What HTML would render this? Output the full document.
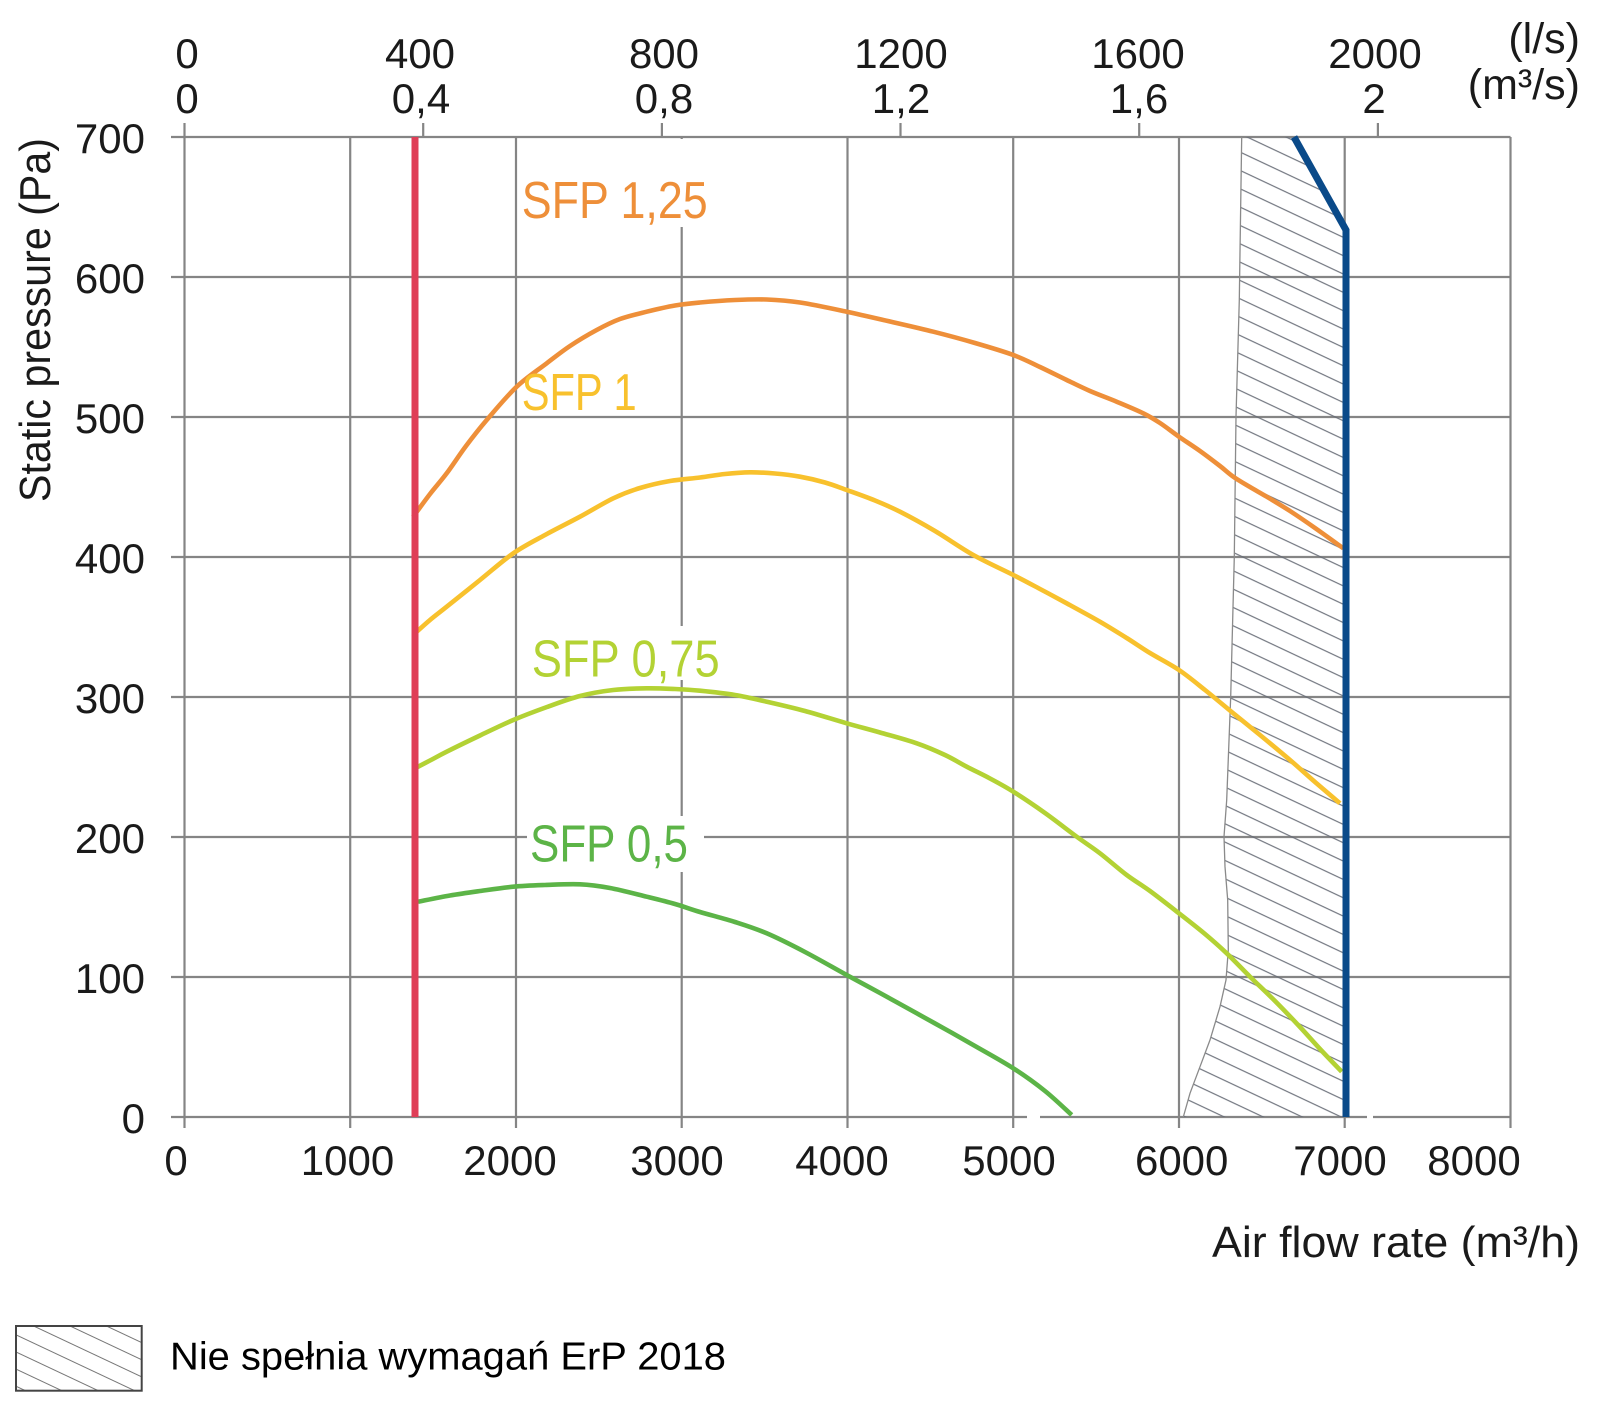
<!DOCTYPE html>
<html>
<head>
<meta charset="utf-8">
<style>
  html, body { margin: 0; padding: 0; background: #ffffff; }
  svg { display: block; }
  text { font-family: "Liberation Sans", Arial, sans-serif; }
</style>
</head>
<body>
<svg width="1600" height="1408" viewBox="0 0 1600 1408" xmlns="http://www.w3.org/2000/svg">
  <defs>
    <pattern id="hatch" patternUnits="userSpaceOnUse" width="24" height="16.6" patternTransform="rotate(25.2)">
      <line x1="-2" y1="8" x2="26" y2="8" stroke="#666b75" stroke-width="1.1"/>
    </pattern>
    <pattern id="hatch2" patternUnits="userSpaceOnUse" width="24" height="15.5" patternTransform="translate(16,1326) rotate(25.2)">
      <line x1="-2" y1="8" x2="26" y2="8" stroke="#777" stroke-width="1.1"/>
    </pattern>
  </defs>

  <rect x="0" y="0" width="1600" height="1408" fill="#fff"/>

  <!-- grid -->
  <g stroke="#858585" stroke-width="2.2" fill="none">
    <line x1="171" y1="137" x2="1510.5" y2="137"/>
    <line x1="171" y1="277" x2="1510.5" y2="277"/>
    <line x1="171" y1="417" x2="1510.5" y2="417"/>
    <line x1="171" y1="557" x2="1510.5" y2="557"/>
    <line x1="171" y1="697" x2="1510.5" y2="697"/>
    <line x1="171" y1="837" x2="1510.5" y2="837"/>
    <line x1="171" y1="977" x2="1510.5" y2="977"/>
    <line x1="171" y1="1117" x2="1510.5" y2="1117"/>
    <line x1="184.5" y1="123" x2="184.5" y2="1128"/>
    <line x1="350.2" y1="137" x2="350.2" y2="1128"/>
    <line x1="516" y1="137" x2="516" y2="1128"/>
    <line x1="681.7" y1="137" x2="681.7" y2="1128"/>
    <line x1="847.5" y1="137" x2="847.5" y2="1128"/>
    <line x1="1013.2" y1="137" x2="1013.2" y2="1128"/>
    <line x1="1179" y1="137" x2="1179" y2="1128"/>
    <line x1="1344.7" y1="137" x2="1344.7" y2="1128"/>
    <line x1="1510.5" y1="137" x2="1510.5" y2="1128"/>
    <line x1="423.2" y1="123" x2="423.2" y2="137"/>
    <line x1="661.9" y1="123" x2="661.9" y2="137"/>
    <line x1="900.5" y1="123" x2="900.5" y2="137"/>
    <line x1="1139.2" y1="123" x2="1139.2" y2="137"/>
    <line x1="1377.9" y1="123" x2="1377.9" y2="137"/>
  </g>

  <rect x="1027" y="1113" width="13" height="8" fill="#fff"/>
  <rect x="1367" y="1113" width="6" height="8" fill="#fff"/>

  <!-- hatched region -->
  <path d="M1241.7,137 L1239.3,300 L1236,416.7 L1234.3,556.7 L1230.7,696.7 L1226.7,800 L1224,836.7 L1225,866.7 L1227.7,900 L1228.3,950 L1226,980 L1220,1006.7 L1210,1040 L1200,1066.7 L1190,1093.3 L1183.3,1117 L1346,1117 L1346,230 L1294,137 Z" fill="url(#hatch)" stroke="none"/>
  <path d="M1241.7,137 L1239.3,300 L1236,416.7 L1234.3,556.7 L1230.7,696.7 L1226.7,800 L1224,836.7 L1225,866.7 L1227.7,900 L1228.3,950 L1226,980 L1220,1006.7 L1210,1040 L1200,1066.7 L1190,1093.3 L1183.3,1117" fill="none" stroke="#8a8a8a" stroke-width="1.3"/>

  <!-- label backgrounds -->
  <rect x="519" y="139" width="197" height="88" fill="#fff"/>
  <rect x="527" y="626" width="200" height="54" fill="#fff"/>
  <rect x="527" y="816" width="177" height="56" fill="#fff"/>

  <!-- curves -->
  <g fill="none" stroke-width="4.6" stroke-linejoin="round" stroke-linecap="butt">
    <polyline class="crv" stroke="#ee8f39" points="413,517 430,494 446.7,473.3 466,446 486.7,420 516.7,386.7 546.7,363.3 570,346 596.7,330 620,319 646.7,311.7 675,305.5 700,302.5 735,300 766.7,299.5 800,302.5 846.7,311.7 890,321.5 933.3,331.7 975,343 1013.3,355 1040,367 1066.7,380 1090,391 1116.7,401.7 1143.3,413.3 1160,423 1179,436.7 1200,451 1220,466 1233.3,476.7 1250,487 1266.7,496.7 1290,511 1315,528 1343.3,548.3"/>
    <polyline class="crv" stroke="#f8c12d" points="415,633.3 430,620 446.7,606.7 480,580 513.3,553.3 545,535 580,516.7 613.3,498.3 640,488 670,481 700,477.5 725,474 750,472.3 775,473.5 800,476.7 825,482.5 846.7,490 875,500.5 900,511.7 935,531 973.3,555 1013.3,575 1040,589 1066.7,603.3 1100,621.7 1126.7,638 1150,653 1179,670 1205,690 1233.3,713.3 1260,735 1290,760 1315,782 1340,803.3"/>
    <polyline class="crv" stroke="#b3d234" points="415,768.3 430,760.5 446.7,751.7 480,735.5 513.3,720 547,707 580,696 613.3,690 646.7,688.3 675,689 700,690.7 735,695 766.7,701.7 805,711 846.7,723.3 880,732.5 916.7,743.3 945,755 966.7,766.7 990,778.5 1013.3,791.7 1045,813 1076.7,836.7 1100,853.3 1126.7,875 1150,891 1179,913.3 1205,934 1226.7,953.3 1250,976.7 1275,1001 1300,1027 1320,1049 1341.7,1071.7"/>
    <polyline class="crv" stroke="#5cb447" points="418.3,901.7 450,895.5 480,891 513.3,886.7 545,885 580,884.3 610,888 646.7,896.7 675,904 700,912 735,922 766.7,933.3 805,952 846.7,975 880,993 916.7,1013.3 945,1029 975,1046 1013.3,1068.3 1045,1091 1071.7,1115"/>
  </g>

  <line x1="415" y1="137" x2="415" y2="1117" stroke="#df3e57" stroke-width="7"/>
  <polyline points="1294,137 1346,230 1346,1117" fill="none" stroke="#0a4a89" stroke-width="7" stroke-linejoin="miter"/>

  <text x="521.7" y="218" font-size="52" fill="#ee8f39" textLength="186" lengthAdjust="spacingAndGlyphs">SFP 1,25</text>
  <text x="521.7" y="410" font-size="52" fill="#f8c12d" textLength="115" lengthAdjust="spacingAndGlyphs">SFP 1</text>
  <text x="531.7" y="676.7" font-size="52" fill="#b3d234" textLength="188" lengthAdjust="spacingAndGlyphs">SFP 0,75</text>
  <text x="530" y="861.7" font-size="52" fill="#5cb447" textLength="158" lengthAdjust="spacingAndGlyphs">SFP 0,5</text>

  <g font-size="42" fill="#1a1a1a" text-anchor="end">
    <text x="145" y="153">700</text>
    <text x="145" y="293">600</text>
    <text x="145" y="433">500</text>
    <text x="145" y="573">400</text>
    <text x="145" y="713">300</text>
    <text x="145" y="853">200</text>
    <text x="145" y="993">100</text>
    <text x="145" y="1133">0</text>
  </g>

  <g font-size="42" fill="#1a1a1a" text-anchor="middle">
    <text x="176" y="1175">0</text>
    <text x="347.5" y="1175">1000</text>
    <text x="510" y="1175">2000</text>
    <text x="677" y="1175">3000</text>
    <text x="842" y="1175">4000</text>
    <text x="1009" y="1175">5000</text>
    <text x="1181.7" y="1175">6000</text>
    <text x="1340" y="1175">7000</text>
    <text x="1474" y="1175">8000</text>
  </g>

  <g font-size="42" fill="#1a1a1a" text-anchor="middle">
    <text x="187" y="68">0</text>
    <text x="420" y="68">400</text>
    <text x="664" y="68">800</text>
    <text x="901" y="68">1200</text>
    <text x="1138" y="68">1600</text>
    <text x="1375" y="68">2000</text>
    <text x="187" y="113">0</text>
    <text x="421" y="113">0,4</text>
    <text x="664" y="113">0,8</text>
    <text x="901" y="113">1,2</text>
    <text x="1139" y="113">1,6</text>
    <text x="1374" y="113">2</text>
  </g>
  <g font-size="43" fill="#1a1a1a" text-anchor="end">
    <text x="1580" y="53">(l/s)</text>
    <text x="1580" y="99">(m³/s)</text>
  </g>

  <text x="1580" y="1257" font-size="44" fill="#1a1a1a" text-anchor="end" textLength="368" lengthAdjust="spacingAndGlyphs">Air flow rate (m³/h)</text>
  <text transform="translate(50,502) rotate(-90)" x="0" y="0" font-size="44" fill="#1a1a1a" textLength="364" lengthAdjust="spacingAndGlyphs">Static pressure (Pa)</text>

  <rect x="16" y="1326" width="125.7" height="64.7" fill="url(#hatch2)" stroke="#444" stroke-width="2"/>
  <text x="170" y="1369.5" font-size="39" fill="#000" textLength="556" lengthAdjust="spacingAndGlyphs">Nie spełnia wymagań ErP 2018</text>
</svg>
<script>
(function(){
  var ns = "http://www.w3.org/2000/svg";
  var pls = document.querySelectorAll("polyline.crv");
  for (var i = 0; i < pls.length; i++) {
    var pl = pls[i];
    var pts = pl.getAttribute("points").trim().split(/\s+/).map(function(s){var a=s.split(",");return [parseFloat(a[0]),parseFloat(a[1])];});
    if (pts.length < 3) continue;
    var d = "M" + pts[0][0] + "," + pts[0][1];
    for (var k = 0; k < pts.length - 1; k++) {
      var p0 = pts[k-1] || pts[k], p1 = pts[k], p2 = pts[k+1], p3 = pts[k+2] || pts[k+1];
      var c1x = p1[0] + (p2[0]-p0[0])/6, c1y = p1[1] + (p2[1]-p0[1])/6;
      var c2x = p2[0] - (p3[0]-p1[0])/6, c2y = p2[1] - (p3[1]-p1[1])/6;
      d += " C" + c1x.toFixed(2) + "," + c1y.toFixed(2) + " " + c2x.toFixed(2) + "," + c2y.toFixed(2) + " " + p2[0] + "," + p2[1];
    }
    var path = document.createElementNS(ns, "path");
    path.setAttribute("d", d);
    path.setAttribute("stroke", pl.getAttribute("stroke"));
    pl.parentNode.replaceChild(path, pl);
  }
})();
</script>
</body>
</html>
